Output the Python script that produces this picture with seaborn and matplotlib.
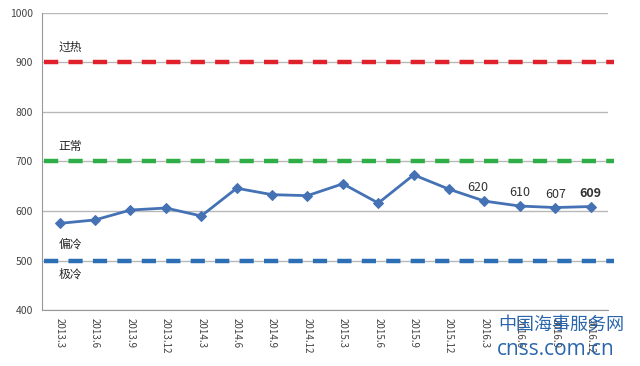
import numpy as np
import pandas as pd
import matplotlib.pyplot as plt
import seaborn as sns

# data
periods = ['2013.3', '2013.6', '2013.9', '2013.12', '2014.3', '2014.6', '2014.9', '2014.12',
           '2015.3', '2015.6', '2015.9', '2015.12', '2016.3', '2016.6', '2016.9', '2016.12']
index_values = [575, 582, 602, 606, 590, 646, 633, 631, 655, 616, 673, 644, 620, 610, 607, 609]
labelled = {12: '620', 13: '610', 14: '607', 15: '609'}

levels = [900, 700, 500]
level_colors = ['#e0202a', '#2fae47', '#2c6fb5']
zone_names = ['过热', '正常', '偏冷', '极冷']
zone_y = [930, 730, 533, 472]

df = pd.DataFrame({'period': periods, 'value': index_values})

sns.set_style('white')
plt.rcParams['font.family'] = ['Noto Sans CJK SC', 'DejaVu Sans']

fig = plt.figure(figsize=(6.4, 3.66), dpi=100)
ax = fig.add_axes([0.0656, 0.153, 0.885, 0.8115])

sns.lineplot(data=df, x='period', y='value', ax=ax, color='#4472b4', linewidth=2,
             marker='D', markersize=5, markeredgecolor='#4472b4', sort=False, zorder=5)

ax.set_ylim(400, 1000)
ax.set_xlim(-0.5, len(periods) - 0.5)
ax.set_yticks(range(400, 1001, 100))
ax.yaxis.grid(True, color='#b8b8b8', linewidth=1)
ax.set_axisbelow(True)

for lv, c in zip(levels, level_colors):
    ax.axhline(lv, xmin=0.003, xmax=1.01, color=c, linewidth=3.2,
               dashes=(3.2, 2.3), clip_on=False, zorder=4)

for name, y in zip(zone_names, zone_y):
    ax.text(0.3, y, name, fontsize=8.5, color='#222222', ha='center', va='center')

for i, txt in labelled.items():
    ax.annotate(txt, (i, index_values[i]), xytext=(-5 if i == 12 else 0, 5),
                textcoords='offset points', ha='center', va='bottom', fontsize=9,
                color='#333333', fontweight='bold' if i == 15 else 'normal')

ax.set_xlabel('')
ax.set_ylabel('')
ax.set_xticks(range(len(periods)))
ax.set_xticklabels(periods, rotation=-90, fontsize=7, color='#444444')
ax.set_xticks(np.arange(-0.5, len(periods), 1), minor=True)
ax.tick_params(axis='x', which='major', length=0, pad=6)
ax.tick_params(axis='x', which='minor', length=4, color='#999999', width=1, direction='out')
ax.tick_params(axis='y', labelsize=7.5, colors='#444444', length=3, width=1)
ax.tick_params(axis='y', color='#999999')

for side in ['top', 'right']:
    ax.spines[side].set_visible(False)
ax.spines['left'].set_color('#999999')
ax.spines['bottom'].set_color('#999999')

# site watermark (sits over the last tick labels, as in the source image)
fig.text(0.778, 0.112, '中国海事服务网', fontsize=13, color='#1f5ea8', ha='left', va='center',
         zorder=10, alpha=0.95)
fig.text(0.776, 0.044, 'cnss.com.cn', fontsize=15, color='#1f5ea8', ha='left', va='center',
         family=['Open Sans', 'DejaVu Sans'], zorder=10, alpha=0.95)

fig.savefig('out.png', dpi=100)
